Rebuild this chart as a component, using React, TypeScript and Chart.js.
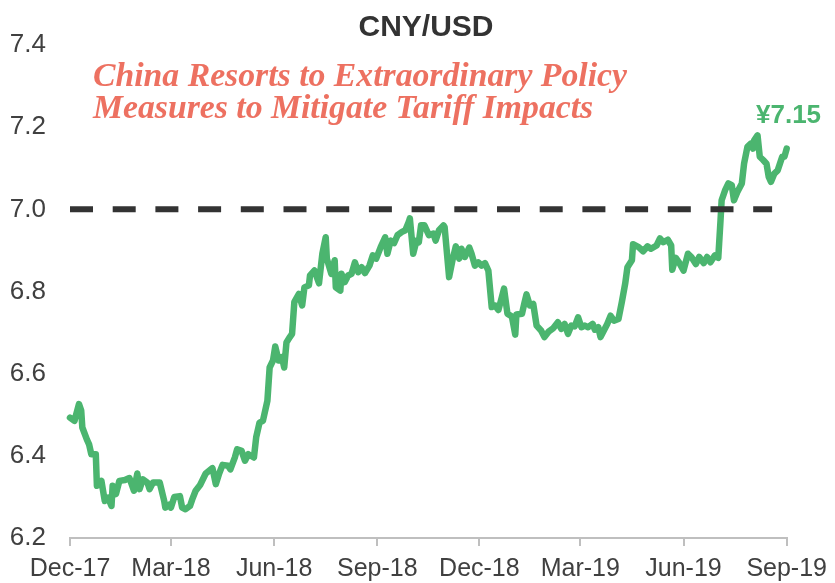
import React, { useEffect, useRef } from "react";
import { Chart, registerables } from "chart.js";

Chart.register(...registerables);

// Days since 2017-12-01
const dayOffsets = [
  0, 4, 8, 10, 11, 15, 17, 19, 23, 24, 28, 31, 34, 37, 38, 41, 44, 49, 53, 57,
  60, 62, 65, 69, 71, 74, 80, 84, 85, 89, 90, 93, 98, 100, 103, 107, 109, 112, 116, 121,
  127, 130, 133, 136, 141, 143, 147, 149, 153, 156, 159, 164, 166, 169, 172, 176, 178, 181, 183, 186,
  189, 191, 193, 196, 198, 200, 204, 207, 209, 213, 214, 218, 222, 225, 228, 229, 233, 236, 237, 241,
  242, 245, 248, 251, 254, 257, 260, 263, 267, 270, 273, 277, 281, 283, 286, 289, 292, 296, 299, 302,
  303, 306, 309, 311, 313, 316, 320, 324, 326, 329, 333, 334, 338, 341, 344, 347, 349, 352, 356, 358,
  361, 364, 367, 370, 373, 376, 379, 382, 385, 387, 390, 394, 397, 398, 403, 405, 407, 410, 413, 416,
  420, 423, 427, 431, 435, 438, 441, 444, 447, 450, 453, 456, 459, 462, 466, 468, 471, 473, 476, 479,
  482, 485, 489, 492, 495, 497, 501, 502, 507, 511, 515, 518, 523, 526, 529, 533, 536, 537, 540, 543,
  547, 551, 554, 558, 561, 565, 568, 571, 575, 578, 580, 581, 584, 587, 590, 592, 595, 599, 601, 604,
  607, 609, 610, 613, 615, 618, 621, 623, 625, 628, 631, 635, 637, 639,
];

const cnyUsd = [
  6.493, 6.485, 6.526, 6.51, 6.469, 6.44, 6.428, 6.404, 6.404, 6.327, 6.339, 6.29, 6.298, 6.278, 6.327, 6.307, 6.339, 6.341, 6.346, 6.315,
  6.357, 6.319, 6.343, 6.335, 6.319, 6.335, 6.335, 6.29, 6.274, 6.282, 6.274, 6.3, 6.302, 6.274, 6.27, 6.278, 6.294, 6.315, 6.329, 6.357,
  6.37, 6.331, 6.357, 6.378, 6.376, 6.367, 6.396, 6.416, 6.412, 6.388, 6.404, 6.396, 6.445, 6.481, 6.485, 6.534, 6.615, 6.632, 6.666, 6.632,
  6.64, 6.615, 6.676, 6.689, 6.697, 6.774, 6.794, 6.766, 6.81, 6.815, 6.839, 6.851, 6.82, 6.892, 6.932, 6.88, 6.843, 6.876, 6.81, 6.802,
  6.843, 6.823, 6.839, 6.843, 6.871, 6.847, 6.859, 6.845, 6.863, 6.888, 6.88, 6.908, 6.932, 6.892, 6.924, 6.918, 6.937, 6.945, 6.949, 6.969,
  6.978, 6.892, 6.924, 6.92, 6.961, 6.961, 6.937, 6.941, 6.924, 6.949, 6.961, 6.957, 6.835, 6.876, 6.91, 6.88, 6.904, 6.884, 6.907, 6.892,
  6.863, 6.871, 6.863, 6.869, 6.851, 6.762, 6.766, 6.755, 6.786, 6.807, 6.746, 6.739, 6.695, 6.744, 6.746, 6.77, 6.793, 6.766, 6.77, 6.717,
  6.705, 6.689, 6.703, 6.711, 6.725, 6.709, 6.721, 6.697, 6.717, 6.715, 6.737, 6.713, 6.717, 6.713, 6.721, 6.707, 6.713, 6.689, 6.705, 6.721,
  6.741, 6.729, 6.733, 6.774, 6.819, 6.859, 6.876, 6.915, 6.908, 6.898, 6.91, 6.904, 6.912, 6.929, 6.92, 6.926, 6.912, 6.853, 6.882, 6.871,
  6.851, 6.892, 6.884, 6.867, 6.884, 6.869, 6.884, 6.871, 6.888, 6.882, 6.973, 7.022, 7.046, 7.063, 7.059, 7.022, 7.042, 7.063, 7.111, 7.152,
  7.16, 7.148, 7.168, 7.18, 7.128, 7.12, 7.111, 7.079, 7.067, 7.087, 7.095, 7.128, 7.128, 7.148,
];

// Quarter ticks (days since 2017-12-01) and labels
const tickDays = [0, 90, 182, 274, 365, 455, 547, 639];
const tickLabels = ["Dec-17", "Mar-18", "Jun-18", "Sep-18", "Dec-18", "Mar-19", "Jun-19", "Sep-19"];

const thresholdValue = 7.0;
const thresholdDays = [0, 626];

const chartTitle = "CNY/USD";
const annotationLines = [
  "China Resorts to Extraordinary Policy",
  "Measures to Mitigate Tariff Impacts",
];
const lastLabel = "¥7.15";

const GREEN = "#4BB56F";
const SALMON = "#ED7161";
const TEXT = "#404040";

const textPlugin = {
  id: "texts",
  afterDraw(chart: any) {
    const ctx = chart.ctx as CanvasRenderingContext2D;
    ctx.save();
    // Title
    ctx.fillStyle = "#333333";
    ctx.font = "bold 30px 'Liberation Sans', Arial, sans-serif";
    ctx.textAlign = "center";
    ctx.textBaseline = "alphabetic";
    ctx.fillText(chartTitle, 426, 36);

    // Annotation
    const fam = "'Liberation Serif', serif";
    ctx.font = `italic bold 100px ${fam}`;
    const w100 = ctx.measureText(annotationLines[0]).width;
    const size = (534 / w100) * 100;
    ctx.font = `italic bold ${size}px ${fam}`;
    ctx.fillStyle = SALMON;
    ctx.textAlign = "left";
    ctx.fillText(annotationLines[0], 93, 86);
    ctx.fillText(annotationLines[1], 93, 118);

    // Last value label
    ctx.fillStyle = GREEN;
    ctx.font = "bold 26px 'Liberation Sans', Arial, sans-serif";
    ctx.fillText(lastLabel, 756, 123);
    ctx.restore();
  },
};

export default function App() {
  const canvasRef = useRef<HTMLCanvasElement | null>(null);

  useEffect(() => {
    document.body.style.margin = "0";
    const canvas = canvasRef.current;
    if (!canvas) return;
    const linePts = dayOffsets.map((d, i) => ({ x: d, y: cnyUsd[i] }));
    const dashPts = thresholdDays.map((d) => ({ x: d, y: thresholdValue }));

    const chart = new Chart(canvas, {
      type: "line",
      data: {
        datasets: [
          {
            data: dashPts,
            borderColor: "#333333",
            borderWidth: 6,
            borderDash: [23, 19.7],
            borderCapStyle: "butt",
            pointRadius: 0,
            clip: false,
          } as any,
          {
            data: linePts,
            borderColor: GREEN,
            borderWidth: 6.5,
            borderJoinStyle: "round",
            borderCapStyle: "round",
            pointRadius: 0,
            tension: 0,
            clip: false,
          } as any,
        ],
      },
      options: {
        responsive: false,
        animation: false,
        layout: { padding: { top: 45, right: 46, left: 0, bottom: 0 } },
        plugins: {
          legend: { display: false },
          tooltip: { enabled: false },
          title: { display: false },
        },
        scales: {
          x: {
            type: "linear",
            min: 0,
            max: 639,
            afterBuildTicks: (scale: any) => {
              scale.ticks = tickDays.map((v) => ({ value: v }));
            },
            afterFit: (scale: any) => {
              scale.height = 45;
            },
            ticks: {
              autoSkip: false,
              maxRotation: 0,
              minRotation: 0,
              padding: 8,
              color: TEXT,
              font: { family: "'Liberation Sans', Arial, sans-serif", size: 25 },
              callback: (_v: any, i: number) => tickLabels[i],
            },
            grid: {
              drawOnChartArea: false,
              drawTicks: true,
              tickLength: 8,
              color: "#BFBFBF",
              lineWidth: 2,
            },
            border: { display: true, color: "#BFBFBF", width: 2 },
          },
          y: {
            min: 6.2,
            max: 7.4,
            afterFit: (scale: any) => {
              scale.width = 70;
            },
            ticks: {
              stepSize: 0.2,
              padding: 24,
              color: TEXT,
              font: { family: "'Liberation Sans', Arial, sans-serif", size: 26 },
              callback: (v: any) => Number(v).toFixed(1),
            },
            grid: { display: false, drawTicks: false },
            border: { display: false },
          },
        },
      } as any,
      plugins: [textPlugin],
    });
    return () => chart.destroy();
  }, []);

  return (
    <div style={{ width: 835, height: 583 }}>
      <canvas ref={canvasRef} width={835} height={583} />
    </div>
  );
}
